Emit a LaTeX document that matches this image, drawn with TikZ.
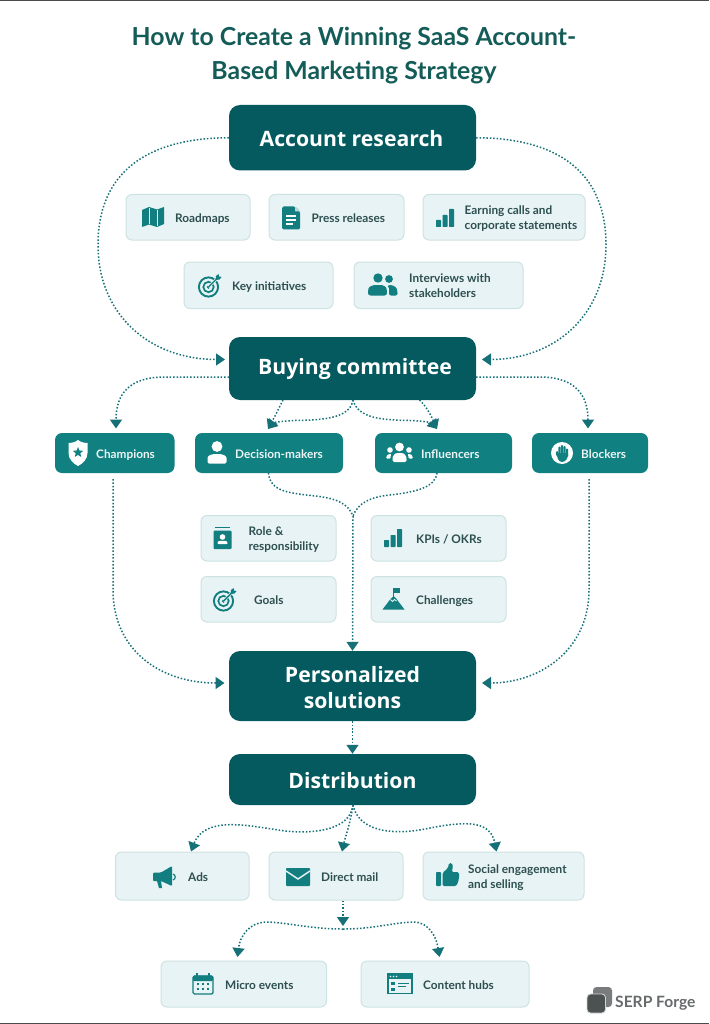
\documentclass[tikz,border=0pt]{standalone}
\usepackage{fontspec}
\setmainfont{Lato}
\newfontfamily\headfont{Open Sans}
\newfontfamily\titlefont{Lato}
\usetikzlibrary{arrows.meta,shapes.geometric}
\definecolor{darkteal}{HTML}{045A5E}
\definecolor{midteal}{HTML}{118080}
\definecolor{iconteal}{HTML}{127E80}
\definecolor{paleteal}{HTML}{E7F3F4}
\definecolor{edgeteal}{HTML}{CFE2E2}
\definecolor{labelink}{HTML}{2E4F50}
\definecolor{titleink}{HTML}{145C58}
\definecolor{flowteal}{HTML}{157078}
\definecolor{logoink}{HTML}{4C5152}
\tikzset{
  x=1pt,y=-1pt,
  darkbox/.style={draw=none,fill=darkteal,rounded corners=11pt,inner sep=0pt},
  headlabel/.style={inner sep=0pt,align=center,text=white,font=\headfont\bfseries\fontsize{21.2}{25.5}\selectfont},
  midbox/.style={draw=none,fill=midteal,rounded corners=7pt,inner sep=0pt},
  lightbox/.style={draw=edgeteal,line width=1pt,fill=paleteal,rounded corners=6pt,inner sep=0pt},
  lightlabel/.style={anchor=west,inner sep=0pt,yshift=-1.7pt,align=left,text=labelink,font=\bfseries\fontsize{11.8}{15}\selectfont},
  midlabel/.style={anchor=west,inner sep=0pt,yshift=-1.7pt,align=left,text=white!92!midteal,font=\bfseries\fontsize{11.8}{15}\selectfont},
  flow/.style={draw=flowteal,line width=1.5pt,dash pattern=on 1.5pt off 1.9pt},
  flowhead/.style={flow,-{Triangle[length=9pt,width=12pt,fill=flowteal]}},
  ico/.style={fill=iconteal,draw=none}
}
% name, x1, y1, x2, y2, style
\newcommand\plainbox[6]{%
  \pgfmathsetmacro\bw{#4-#2}\pgfmathsetmacro\bh{#5-#3}%
  \pgfmathsetmacro\cx{(#2+#4)/2}\pgfmathsetmacro\cy{(#3+#5)/2}%
  \node[#6,minimum width=\bw pt,minimum height=\bh pt] (#1) at (\cx,\cy) {};}
% name, x1, y1, x2, y2, textx, text
\newcommand\lbox[7]{%
  \plainbox{#1}{#2}{#3}{#4}{#5}{lightbox}%
  \pgfmathsetmacro\cy{(#3+#5)/2}%
  \node[lightlabel] (#1-text) at (#6,\cy) {\vphantom{Ap}#7\vphantom{Ap}};}
\newcommand\tealbox[7]{%
  \plainbox{#1}{#2}{#3}{#4}{#5}{midbox}%
  \pgfmathsetmacro\cy{(#3+#5)/2}%
  \node[midlabel] (#1-text) at (#6,\cy) {\vphantom{Ap}#7};}
\newcommand\icbars[2]{\begin{scope}[shift={(#1,#2)}]
  \fill[ico,rounded corners=.7pt] (-9,9) rectangle (-4,2);
  \fill[ico,rounded corners=.7pt] (-2.5,9) rectangle (2.5,-3);
  \fill[ico,rounded corners=.7pt] (4,9) rectangle (9,-9);
\end{scope}}
\newcommand\ictarget[2]{\begin{scope}[shift={(#1,#2)}]
  \draw[iconteal,line width=1.9pt] (-1,1) circle (9.6);
  \draw[iconteal,line width=1.7pt] (-1,1) circle (5.2);
  \fill[iconteal] (-1,1) circle (1.9);
  \draw[paleteal,line width=2.6pt] (-1,1) -- (9,-9);
  \draw[iconteal,line width=1.4pt] (-1,1) -- (8,-8);
  \fill[iconteal] (6,-6) -- (6.5,-10) -- (9,-12) -- (9.5,-9.5) -- (12,-9) -- (10,-6.5) -- cycle;
\end{scope}}
\begin{document}
\begin{tikzpicture}
\useasboundingbox (0,0) rectangle (709,1024);
\fill[white] (0,0) rectangle (709,1024);
\fill[black!70] (0,0) rectangle (709,1);
\fill[black!70] (0,1022.5) rectangle (709,1024);

\node[inner sep=0pt,align=center,text=titleink,font=\titlefont\bfseries\fontsize{24.8}{34}\selectfont] (title) at (354,56) {How to Create a Winning SaaS Account-\\Based Marketing Strategy};

% main boxes
\plainbox{research}{229}{105}{476}{170.5}{darkbox}
\node[headlabel] (research-text) at (351.5,138.5) {Account research};
\plainbox{buying}{229}{337}{476}{400}{darkbox}
\node[headlabel] (buying-text) at (355,369) {Buying committee};
\plainbox{solutions}{229}{651}{476}{721}{darkbox}
\node[headlabel] (solutions-text) at (352.5,687.5) {Personalized\\solutions};
\plainbox{distribution}{229}{754}{476}{805}{darkbox}
\node[headlabel] (distribution-text) at (352.5,780.5) {Distribution};

% research items
\lbox{roadmaps}{126}{194.5}{250}{240}{175}{Roadmaps}
\lbox{press}{269}{194.5}{404}{240}{311.5}{Press releases}
\lbox{earning}{423}{194.5}{585}{240}{464.5}{Earning calls and\\corporate statements}
\lbox{key}{184}{262}{333}{308.5}{232}{Key initiatives}
\lbox{interviews}{354}{262}{523}{308.5}{409}{Interviews with\\stakeholders}

% committee roles
\tealbox{champions}{55}{433}{174.5}{473}{96}{Champions}
\tealbox{deciders}{195}{433}{343}{473}{235}{Decision-makers}
\tealbox{influencers}{375}{433}{512}{473}{421}{Influencers}
\tealbox{blockers}{532}{433}{648}{473}{581}{Blockers}

% attributes
\lbox{role}{201}{515.5}{336}{561}{248.5}{Role \&\\responsibility}
\lbox{kpis}{371}{515.5}{506}{561}{416}{KPIs / OKRs}
\lbox{goals}{201}{576.5}{336}{622}{254}{Goals}
\lbox{challenges}{371}{576.5}{506}{622}{416}{Challenges}

% channels
\lbox{ads}{115.5}{852}{249}{900}{188}{Ads}
\lbox{mail}{269}{852}{403}{900}{321}{Direct mail}
\lbox{social}{423}{852}{584}{900}{468}{Social engagement\\and selling}
\lbox{micro}{161}{961}{326.5}{1007}{225}{Micro events}
\lbox{hubs}{361}{961}{529}{1007}{423}{Content hubs}

% connector ends
\coordinate (rbL) at (225,359.5);
\coordinate (rbR) at (482,359.5);
\coordinate (bLeft) at (229,377);
\coordinate (bRight) at (476,377);
\coordinate (chT) at (116,428.5);
\coordinate (blT) at (588,428.5);
\coordinate (deT) at (268,429);
\coordinate (inT) at (437,429);
\coordinate (bCenter) at (353,400);
\coordinate (bDe) at (283,400);
\coordinate (bIn) at (419.5,400);
\coordinate (deB) at (268.5,473);
\coordinate (inB) at (437,473);
\coordinate (merge) at (353,516);
\coordinate (chB) at (113,479);
\coordinate (blB) at (589,479);
\coordinate (psL) at (224.5,683);
\coordinate (psR) at (482,683);
\coordinate (dBase) at (353,805);
\coordinate (chanJoin) at (343,929);
\coordinate (adsT) at (191,851.5);
\coordinate (mailT) at (342,851.5);
\coordinate (socT) at (496.5,851.5);
\coordinate (mailJ) at (343,926);
\coordinate (micT) at (237.5,957);
\coordinate (hubT) at (439.5,957);

% connectors
\draw[flowhead] (research.west) .. controls (150,138) and (98,170) .. (98,245) .. controls (98,315) and (150,359.5) .. (rbL);
\draw[flowhead] (research.east) .. controls (555,138) and (606,170) .. (606,245) .. controls (606,315) and (555,359.5) .. (rbR);
\draw[flowhead] (bLeft) -- (165,377) .. controls (128,377) and (116,395) .. (chT);
\draw[flowhead] (bRight) -- (540,377) .. controls (575,377) and (588,395) .. (blT);
\draw[flowhead] (bDe) .. controls (278,410) and (274,418) .. (deT);
\draw[flowhead] (bIn) .. controls (428,408) and (432,418) .. (inT);
\draw[flowhead] (bCenter) .. controls (350,418) and (325,420) .. (295,420.5) .. controls (280,421) and (273,423) .. (deT);
\draw[flowhead] (bCenter) .. controls (358,418) and (380,420) .. (410,420.5) .. controls (425,421) and (432,423) .. (inT);
\draw[flow] (deB) .. controls (270,492) and (290,493) .. (315,496) .. controls (335,498) and (348,503) .. (merge);
\draw[flow] (inB) .. controls (435,488) and (415,492) .. (390,495) .. controls (370,497) and (358,503) .. (merge);
\draw[flowhead] (merge) -- (solutions.north);
\draw[flowhead] (chB) -- (113,590) .. controls (113,650) and (160,683) .. (psL);
\draw[flowhead] (blB) -- (589,590) .. controls (589,650) and (540,683) .. (psR);
\draw[flowhead] (solutions.south) -- (distribution.north);
\draw[flowhead] (dBase) .. controls (350,830) and (315,834) .. (285,831) .. controls (250,826) and (205,815) .. (adsT);
\draw[flowhead] (dBase) .. controls (350,825) and (345,838) .. (mailT);
\draw[flowhead] (dBase) .. controls (358,830) and (390,836) .. (425,829) .. controls (460,822) and (490,818) .. (socT);
\draw[flowhead] (mail.south -| mailJ) -- (mailJ);
\draw[flowhead] (chanJoin) .. controls (310,929) and (285,922) .. (265,922) .. controls (250,923) and (240,935) .. (micT);
\draw[flowhead] (chanJoin) .. controls (375,929) and (395,922) .. (415,922) .. controls (428,923) and (436,935) .. (hubT);

% icons: map
\begin{scope}[shift={(153,217)}]
  \fill[ico] (-11,-7) -- (-4,-10) -- (4,-7.5) -- (11,-10) -- (11,7) -- (4,10) -- (-4,7.5) -- (-11,10) -- cycle;
  \draw[paleteal,line width=.6pt] (-4,-9) -- (-4,7) (4,-7) -- (4,9);
\end{scope}
% document
\begin{scope}[shift={(291,218)}]
  \fill[ico,rounded corners=1.5pt] (-9,-11.5) -- (4,-11.5) -- (9,-6.5) -- (9,11.5) -- (-9,11.5) -- cycle;
  \fill[white!70!iconteal] (4,-11.5) -- (9,-6.5) -- (4,-6.5) -- cycle;
  \draw[white,line width=1.2pt] (-5,-2) -- (5,-2) (-5,2) -- (5,2) (-5,6) -- (2,6);
\end{scope}
\icbars{445}{218}
\ictarget{209.5}{286}
% two people
\begin{scope}[shift={(383,285)}]
  \fill[ico] (-5,-7) circle (4.7);
  \fill[ico] (6,-6) circle (3.9);
  \fill[ico,rounded corners=2.5pt] (-15,10.5) -- (-15,6) .. controls (-14,1) and (-9,0) .. (-5,0) .. controls (-1,0) and (3,1) .. (4,6) -- (4,10.5) -- cycle;
  \fill[ico,rounded corners=2pt] (6,10.5) -- (6,5.5) .. controls (6,3) and (5,2) .. (4,1) .. controls (8,-0.5) and (13,1) .. (14.5,6) -- (14.5,10.5) -- cycle;
\end{scope}
% shield with star
\begin{scope}[shift={(78,453)}]
  \fill[white] (0,-13) .. controls (3,-10.5) and (7,-10) .. (9.5,-10) -- (9.5,0) .. controls (9.5,6) and (5,10.5) .. (0,13) .. controls (-5,10.5) and (-9.5,6) .. (-9.5,0) -- (-9.5,-10) .. controls (-7,-10) and (-3,-10.5) .. (0,-13) -- cycle;
  \node[star,star points=5,star point ratio=2.3,fill=midteal,minimum size=11pt,inner sep=0pt] (shieldstar) at (0,-0.5) {};
\end{scope}
% person
\begin{scope}[shift={(217,453)}]
  \fill[white] (0,-6.5) circle (5.4);
  \fill[white,rounded corners=1.5pt] (-9.5,10.5) -- (-9.5,6.5) .. controls (-9.5,2) and (-4,1) .. (0,1) .. controls (4,1) and (9.5,2) .. (9.5,6.5) -- (9.5,10.5) -- cycle;
\end{scope}
% three people
\begin{scope}[shift={(399.5,453)}]
  \fill[white] (0,-6) circle (4.4);
  \fill[white] (-9.5,-3) circle (2.8);
  \fill[white] (9.5,-3) circle (2.8);
  \fill[white,rounded corners=1.5pt] (-7,9) -- (-7,5) .. controls (-6,0.5) and (-3,0) .. (0,0) .. controls (3,0) and (6,0.5) .. (7,5) -- (7,9) -- cycle;
  \fill[white,rounded corners=1pt] (-13.5,5.5) .. controls (-13,1.5) and (-11,1) .. (-8,1) .. controls (-8.5,2) and (-9,3.5) .. (-9,5.5) -- cycle;
  \fill[white,rounded corners=1pt] (13.5,5.5) .. controls (13,1.5) and (11,1) .. (8,1) .. controls (8.5,2) and (9,3.5) .. (9,5.5) -- cycle;
\end{scope}
% hand in circle
\begin{scope}[shift={(562,453)}]
  \fill[white] (0,0) circle (11);
  \fill[midteal,rounded corners=1pt] (-6,-2) rectangle (-4,3);
  \fill[midteal,rounded corners=1pt] (-3.6,-6.5) rectangle (-1.4,2);
  \fill[midteal,rounded corners=1pt] (-1.1,-8) rectangle (1.1,2);
  \fill[midteal,rounded corners=1pt] (1.4,-7) rectangle (3.6,2);
  \fill[midteal,rounded corners=1pt] (3.9,-4.5) rectangle (6,4);
  \fill[midteal,rounded corners=3pt] (-6,0) -- (6,0) -- (6,4) -- (3,9) -- (-3,9) -- cycle;
\end{scope}
% badge
\begin{scope}[shift={(222.5,538)}]
  \draw[iconteal,line width=1.4pt] (-7.5,-10.5) -- (7,-10.5);
  \fill[ico,rounded corners=1pt] (-9,-7.5) rectangle (9,11);
  \fill[white] (0,-1) circle (2.8);
  \fill[white,rounded corners=1pt] (-5,6) -- (-5,4.5) .. controls (-4,2.5) and (4,2.5) .. (5,4.5) -- (5,6) -- cycle;
\end{scope}
\icbars{393}{538}
\ictarget{224.5}{600}
% mountain and flag
\begin{scope}[shift={(393.5,599)}]
  \fill[ico] (-11,10.5) -- (-3,0) -- (0,-3) -- (3,0) -- (11,10.5) -- cycle;
  \draw[paleteal,line width=.9pt] (-3,0.5) -- (-1,2.5) -- (1,0.5) -- (3,2);
  \draw[iconteal,line width=1.1pt] (0,-3) -- (0,-11);
  \fill[ico] (0,-11) rectangle (6,-6.5);
\end{scope}
% megaphone
\begin{scope}[shift={(165,877)}]
  \fill[ico,rounded corners=1pt] (-12,-4.5) -- (-4,-4.5) -- (7,-11) -- (7,9) -- (-4,4) -- (-12,4) -- cycle;
  \fill[ico] (-8,4) -- (-4,4) -- (-3,11) -- (-6,11) -- cycle;
  \draw[iconteal,line width=1.2pt] (8,-3) .. controls (11,-2) and (11,2) .. (8,3);
\end{scope}
% envelope
\begin{scope}[shift={(298,877)}]
  \fill[ico,rounded corners=.8pt] (-12,-9) rectangle (12,9);
  \draw[paleteal,line width=1.5pt] (-12,-6) -- (0,2) -- (12,-6);
\end{scope}
% thumb
\begin{scope}[shift={(448,876)}]
  \fill[ico,rounded corners=.8pt] (-12,-4) rectangle (-7,10);
  \fill[ico,rounded corners=1.5pt] (-5.5,-3) -- (0,-8) -- (1,-13) -- (4,-13) -- (5,-9) -- (3.5,-4) -- (11,-4) -- (11,3) -- (8.5,10) -- (-5.5,10) -- cycle;
\end{scope}
% calendar
\begin{scope}[shift={(203,984)}]
  \draw[iconteal,line width=1.4pt,rounded corners=1.5pt,fill=paleteal] (-10,-8) rectangle (10,10);
  \fill[ico,rounded corners=1pt] (-10,-8.5) rectangle (10,-3);
  \draw[iconteal,line width=1.4pt] (-6,-11) -- (-6,-8) (6,-11) -- (6,-8);
  \foreach \px in {-5,0,5}{\foreach \py in {0,5}{\fill[ico] (\px-1.1,\py-1.1) rectangle (\px+1.1,\py+1.1);}}
\end{scope}
% browser
\begin{scope}[shift={(400,984)}]
  \draw[iconteal,line width=1.3pt,fill=paleteal] (-12,-10) rectangle (12,9.5);
  \fill[ico] (-12,-10) rectangle (12,-5);
  \foreach \px in {-9.5,-6.5,-3.5}{\fill[paleteal] (\px,-7.5) circle (.8);}
  \fill[ico] (-9,-2) rectangle (-5,1);
  \fill[ico] (-9,4) rectangle (-5,7);
  \draw[iconteal,line width=.9pt] (-2,-1) -- (9,-1) (-2,2) -- (6,2);
\end{scope}
% logo
\fill[logoink!75!white,rounded corners=3.5pt] (593,987) rectangle (612,1007);
\draw[white!75!logoink,line width=.9pt,rounded corners=3.5pt,fill=logoink] (587,994) rectangle (605.5,1013);
\node[inner sep=0pt,anchor=west,text=logoink!85!white,font=\bfseries\fontsize{15.6}{16}\selectfont] (brand) at (615,1003) {SERP Forge};
\end{tikzpicture}
\end{document}
